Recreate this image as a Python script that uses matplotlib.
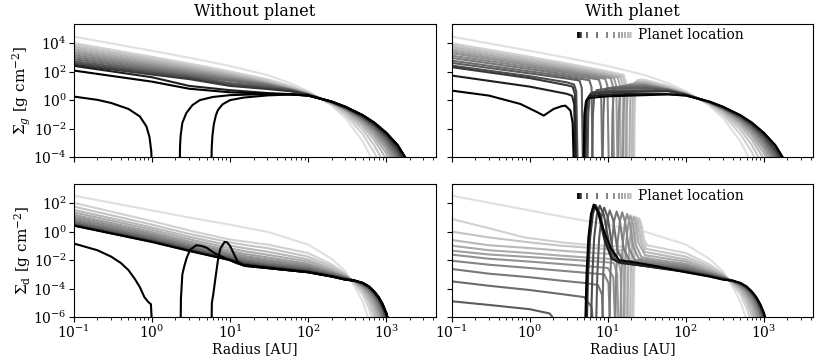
import numpy as np
import matplotlib
matplotlib.use("Agg")
import matplotlib.pyplot as plt
from matplotlib.ticker import NullLocator

plt.rcParams["font.family"] = "DejaVu Serif"
plt.rcParams["mathtext.fontset"] = "dejavuserif"
plt.rcParams["font.size"] = 10
plt.rcParams["xtick.major.pad"] = 1.5
plt.rcParams["ytick.major.pad"] = 1.5

# grey level of each snapshot, early (light) -> late (black)
GREYS = [0.88, 0.82, 0.77, 0.72, 0.67, 0.62, 0.57, 0.52, 0.47, 0.42, 0.36, 0.30, 0.22, 0.12, 0.0]

# ---- gas, no planet: log10 Sigma_g on R_GAS ----
R_GAS = [0.1, 1, 3, 10, 30, 60, 100, 200, 300, 500, 700, 1000, 1400, 2000]
GAS_NOPL = [
    [4.47, 3.47, 2.98, 2.40, 1.76, 1.18, 0.63, -0.38, -1.26, -2.90, -4.47],
    [4.01, 3.05, 2.58, 2.02, 1.47, 1.00, 0.56, -0.31, -1.04, -2.39, -3.66, -5.50],
    [3.87, 2.92, 2.46, 1.91, 1.36, 0.92, 0.51, -0.26, -0.91, -2.07, -3.16, -4.72],
    [3.73, 2.80, 2.35, 1.82, 1.28, 0.86, 0.48, -0.23, -0.80, -1.83, -2.78, -4.14, -6.00],
    [3.58, 2.68, 2.24, 1.74, 1.22, 0.82, 0.45, -0.20, -0.73, -1.66, -2.52, -3.74, -5.30],
    [3.44, 2.56, 2.14, 1.66, 1.18, 0.79, 0.44, -0.19, -0.68, -1.54, -2.33, -3.44, -4.87],
    [3.30, 2.45, 2.04, 1.58, 1.15, 0.76, 0.42, -0.17, -0.64, -1.45, -2.18, -3.22, -4.54],
    [3.16, 2.34, 1.95, 1.50, 1.12, 0.74, 0.41, -0.16, -0.61, -1.37, -2.06, -3.03, -4.27],
    [3.02, 2.23, 1.86, 1.43, 1.08, 0.73, 0.40, -0.15, -0.59, -1.32, -1.98, -2.90, -4.06],
    [2.88, 2.12, 1.76, 1.35, 1.03, 0.72, 0.40, -0.15, -0.56, -1.27, -1.89, -2.77, -3.88, -5.48],
    [2.74, 2.01, 1.67, 1.20, 0.94, 0.69, 0.39, -0.14, -0.54, -1.21, -1.81, -2.64, -3.69, -5.20],
    [2.62, 1.91, 1.58, 1.10, 0.86, 0.66, 0.38, -0.13, -0.52, -1.18, -1.75, -2.55, -3.56, -5.01],
    [2.50, 1.80, 1.48, 1.00, 0.78, 0.62, 0.38, -0.13, -0.51, -1.14, -1.70, -2.46, -3.43, -4.81],
    [2.41, 1.61, 1.00, 0.70, 0.50, 0.42, 0.33, -0.11, -0.48, -1.08, -1.60, -2.33, -3.20, -4.60],
    [2.08, 1.30, 0.80, 0.55, 0.45, 0.40, 0.32, -0.10, -0.47, -1.06, -1.58, -2.30, -3.17, -4.55],
]
# photoevaporated gas disc: inner remnant and two holed outer discs
HOLE_IN_R = [0.1, 0.2, 0.3, 0.5, 0.7, 0.85, 0.93, 0.98, 1.0]
HOLE_IN_V = [0.25, 0.02, -0.20, -0.62, -1.15, -1.85, -2.60, -3.60, -5.00]
HOLE1_R = [2.27, 2.29, 2.33, 2.45, 2.76, 3.3, 4.1, 6, 10, 20, 30]
HOLE1_V = [-4.5, -3.2, -2.5, -1.6, -0.9, -0.35, 0.0, 0.22, 0.35, 0.40, 0.40]
HOLE2_R = [5.77, 5.83, 5.95, 6.2, 6.6, 7.0, 8.0, 10, 15, 30]
HOLE2_V = [-4.5, -3.3, -2.5, -1.7, -1.05, -0.7, -0.3, 0.0, 0.18, 0.33]

# ---- gas with planet, snapshots 1..14 (out to 30 AU) ----
GAS_PL = [
    ([0.1, 1, 3, 10, 16.0, 17.0, 17.6, 21.8, 22.1, 22.6, 23.5, 26, 30],
     [4.00, 3.05, 2.58, 2.02, 1.78, 1.30, -4.5, -4.5, -1.0, 0.80, 1.38, 1.45, 1.42]),
    ([0.1, 1, 3, 10, 15.5, 16.5, 17.1, 21.3, 21.6, 22.1, 23.0, 26, 30],
     [3.87, 2.92, 2.46, 1.91, 1.68, 1.20, -4.5, -4.5, -1.0, 0.75, 1.30, 1.33, 1.32]),
    ([0.1, 1, 3, 10, 14.5, 15.5, 16.0, 20.3, 20.6, 21.1, 22.0, 25, 30],
     [3.73, 2.80, 2.35, 1.82, 1.62, 1.10, -4.5, -4.5, -1.0, 0.70, 1.22, 1.26, 1.25]),
    ([0.1, 1, 3, 10, 13.4, 14.3, 14.8, 18.9, 19.2, 19.7, 20.6, 24, 30],
     [3.58, 2.68, 2.24, 1.74, 1.58, 1.05, -4.5, -4.5, -1.0, 0.65, 1.15, 1.20, 1.19]),
    ([0.1, 1, 3, 10, 12.0, 12.85, 13.3, 17.2, 17.5, 18.0, 18.9, 22, 30],
     [3.44, 2.56, 2.14, 1.66, 1.56, 1.00, -4.5, -4.5, -1.0, 0.60, 1.10, 1.15, 1.13]),
    ([0.1, 1, 3, 10, 10.9, 11.6, 12.0, 15.6, 15.9, 16.35, 17.2, 20, 30],
     [3.30, 2.45, 2.04, 1.58, 1.54, 1.00, -4.5, -4.5, -1.0, 0.55, 1.05, 1.10, 1.08]),
    ([0.1, 1, 3, 9.3, 9.9, 10.3, 13.6, 13.85, 14.25, 15.0, 18, 30],
     [3.13, 2.32, 1.93, 1.50, 1.00, -4.5, -4.5, -1.0, 0.50, 0.98, 1.04, 1.05]),
    ([0.1, 1, 3, 7.7, 8.2, 8.5, 11.3, 11.5, 11.85, 12.5, 15, 30],
     [2.97, 2.18, 1.80, 1.45, 0.95, -4.5, -4.5, -1.0, 0.45, 0.90, 0.97, 1.00]),
    ([0.1, 1, 3, 5.8, 6.2, 6.4, 8.6, 8.78, 9.05, 9.6, 12, 30],
     [2.78, 2.02, 1.66, 1.40, 0.90, -4.5, -4.5, -1.0, 0.40, 0.82, 0.90, 0.95]),
    ([0.1, 1, 3, 4.35, 4.65, 4.8, 6.3, 6.45, 6.7, 7.2, 10, 30],
     [2.62, 1.88, 1.52, 1.38, 0.85, -4.5, -4.5, -1.0, 0.30, 0.70, 0.80, 0.85]),
    ([0.1, 1, 3, 3.7, 3.95, 4.1, 5.5, 5.62, 5.85, 6.3, 10, 30],
     [2.43, 1.68, 1.25, 1.10, 0.60, -4.5, -4.5, -1.0, 0.20, 0.55, 0.65, 0.70]),
    ([0.1, 1, 3, 3.55, 3.8, 3.95, 5.2, 5.32, 5.55, 6.0, 10, 30],
     [2.32, 1.55, 1.05, 0.95, 0.40, -4.5, -4.5, -1.0, 0.10, 0.45, 0.55, 0.60]),
    ([0.1, 1, 3, 3.5, 3.72, 3.85, 5.0, 5.12, 5.35, 5.8, 10, 30],
     [1.73, 0.95, 0.44, 0.30, -0.30, -4.5, -4.5, -1.0, 0.00, 0.30, 0.40, 0.45]),
    ([0.1, 0.3, 0.76, 1.25, 1.51, 2.03, 2.6, 2.87, 3.33, 3.55, 3.67, 4.9, 5.02, 5.25, 5.7, 10, 30],
     [0.67, 0.32, -0.27, -0.85, -1.09, -0.62, -0.42, -0.39, -0.74, -1.60, -4.5, -4.5, -1.0, -0.10, 0.15, 0.27, 0.35]),
]
PLANET_R = [19.9, 19.5, 18.2, 16.8, 15.2, 13.8, 11.9, 9.8, 7.3, 5.43, 4.6, 4.35, 4.25, 4.2]

# ---- dust, no planet: log10 Sigma_d on R_DUST ----
R_DUST = [0.1, 1, 3, 10, 15, 30, 100, 200, 300, 400, 500, 600, 700, 800, 900, 1000, 1100]
DUST_NOPL = [
    [2.54, 1.50, 1.00, 0.50, 0.30, 0.00, -0.90, -1.90, -2.80, -3.90, -4.90, -6.20],
    [2.03, 0.75, 0.09, -0.55, -0.68, -0.90, -1.50, -2.30, -2.95, -3.75, -4.40, -5.35, -6.60],
    [1.77, 0.50, -0.15, -0.75, -0.92, -1.15, -1.75, -2.45, -3.00, -3.65, -4.20, -4.95, -5.95, -7.00],
    [1.54, 0.30, -0.35, -0.98, -1.15, -1.40, -1.95, -2.60, -3.05, -3.60, -4.07, -4.70, -5.55, -6.60],
    [1.37, 0.14, -0.52, -1.17, -1.36, -1.62, -2.10, -2.70, -3.10, -3.55, -3.96, -4.50, -5.20, -6.10],
    [1.20, -0.02, -0.68, -1.34, -1.55, -1.80, -2.25, -2.80, -3.13, -3.52, -3.88, -4.35, -4.95, -5.75, -6.70],
    [1.06, -0.15, -0.81, -1.48, -1.70, -1.95, -2.35, -2.85, -3.16, -3.50, -3.82, -4.24, -4.77, -5.45, -6.30],
    [0.92, -0.27, -0.93, -1.60, -1.84, -2.08, -2.45, -2.90, -3.20, -3.48, -3.77, -4.15, -4.63, -5.25, -6.00, -6.80],
    [0.78, -0.38, -1.03, -1.71, -1.97, -2.20, -2.55, -2.95, -3.22, -3.47, -3.73, -4.08, -4.52, -5.08, -5.80, -6.60],
    [0.67, -0.48, -1.12, -1.79, -2.07, -2.30, -2.62, -3.00, -3.25, -3.46, -3.70, -4.02, -4.43, -4.95, -5.60, -6.40],
    [0.57, -0.57, -1.20, -1.86, -2.16, -2.38, -2.70, -3.05, -3.28, -3.45, -3.67, -3.97, -4.36, -4.85, -5.45, -6.20],
    [0.50, -0.64, -1.26, -1.92, -2.24, -2.44, -2.75, -3.08, -3.30, -3.45, -3.65, -3.93, -4.30, -4.76, -5.33, -6.00, -6.80],
    [0.46, -0.68, -1.30, -1.96, -2.29, -2.48, -2.80, -3.10, -3.32, -3.45, -3.63, -3.90, -4.27, -4.70, -5.25, -5.90, -6.70],
    [0.44, -0.70, -1.33, -1.98, -2.32, -2.52, -2.83, -3.13, -3.35, -3.45, -3.62, -3.88, -4.23, -4.65, -5.17, -5.80, -6.60],
    [0.43, -0.72, -1.35, -2.00, -2.35, -2.55, -2.85, -3.15, -3.37, -3.45, -3.60, -3.85, -4.20, -4.60, -5.10, -5.70, -6.50],
]
DHOLE_IN_R = [0.1, 0.2, 0.3, 0.4, 0.5, 0.6, 0.7, 0.8, 0.9, 0.97, 1.0]
DHOLE_IN_V = [-0.83, -1.30, -1.75, -2.20, -2.70, -3.30, -3.90, -4.60, -4.95, -5.10, -6.50]
DHOLE1_R = [2.33, 2.35, 2.45, 2.6, 2.8, 3.1, 3.7, 4.3, 5.0, 6.5, 9.0, 12, 15, 30]
DHOLE1_V = [-6.5, -4.7, -3.0, -2.4, -1.8, -1.25, -0.95, -1.0, -1.12, -1.55, -1.9, -2.2, -2.38, -2.55]
DHOLE2_R = [5.8, 5.85, 6.1, 6.6, 7.0, 7.5, 8.5, 9.2, 10, 11.3, 12.5, 14, 16, 30]
DHOLE2_V = [-6.5, -5.0, -4.4, -3.0, -2.0, -1.2, -0.72, -0.75, -1.0, -1.6, -2.1, -2.3, -2.42, -2.56]

# ---- dust with planet: inner discs (snapshots 1..10), trapped rings (1..14) ----
DUST_PL_IN = [
    ([0.1, 0.3, 0.84, 2.5, 5, 10, 16, 17.5, 18.2], [0.90, 0.25, -0.39, -0.74, -0.90, -1.00, -1.05, -2.0, -6.5]),
    ([0.1, 0.3, 1, 2.5, 5, 10, 15, 16.5, 17.3], [0.01, -0.40, -0.75, -0.98, -1.10, -1.22, -1.30, -2.2, -6.5]),
    ([0.1, 0.3, 1, 2.5, 5, 10, 14.5, 15.8, 16.4], [-0.58, -0.95, -1.15, -1.33, -1.45, -1.55, -1.62, -2.5, -6.5]),
    ([0.1, 0.3, 1, 2.5, 5, 10, 13.5, 14.6, 15.2], [-0.98, -1.30, -1.50, -1.68, -1.80, -1.90, -1.98, -2.8, -6.5]),
    ([0.1, 0.3, 1, 2.5, 5, 10, 12, 13.2, 13.7], [-1.33, -1.60, -1.78, -1.92, -2.03, -2.15, -2.20, -3.0, -6.5]),
    ([0.1, 0.3, 1, 2.5, 5, 10, 11.8, 12.4], [-1.61, -1.90, -2.10, -2.27, -2.40, -2.55, -3.2, -6.5]),
    ([0.1, 0.3, 1, 2.5, 5, 9, 10.2, 10.7], [-2.04, -2.32, -2.55, -2.74, -2.88, -3.00, -3.6, -6.5]),
    ([0.1, 0.3, 1, 2.5, 5, 7.5, 8.4, 8.8], [-2.62, -2.95, -3.20, -3.44, -3.60, -3.75, -4.4, -6.5]),
    ([0.1, 0.3, 1, 2.5, 5, 6.2, 6.5], [-3.49, -3.80, -4.10, -4.38, -4.60, -5.3, -6.5]),
    ([0.1, 0.3, 1, 1.8, 2.3], [-4.89, -5.15, -5.45, -5.75, -6.5]),
]
DUST_PL_OUT = [
    ([21.3, 21.8, 22.6, 23.8, 25.6, 27.3, 29, 32], [-6.5, -3.0, -1.0, 0.3, 0.9, 0.4, -0.5, -0.95]),
    ([20.5, 21.0, 21.8, 23.0, 24.8, 26.5, 28, 31], [-6.5, -3.0, -1.0, 0.35, 0.96, 0.4, -0.6, -1.2]),
    ([19.3, 19.7, 20.5, 21.6, 23.1, 24.7, 26.5, 30], [-6.5, -3.0, -0.9, 0.45, 1.02, 0.45, -0.7, -1.42]),
    ([17.8, 18.2, 19.0, 20.1, 21.5, 23.0, 24.8, 30], [-6.5, -3.0, -0.9, 0.5, 1.08, 0.5, -0.8, -1.65]),
    ([16.0, 16.4, 17.2, 18.3, 19.5, 21.0, 22.8, 27, 40], [-6.5, -3.0, -0.8, 0.55, 1.15, 0.55, -0.9, -1.78, -1.95]),
    ([14.5, 14.9, 15.6, 16.6, 17.7, 19.2, 21, 25, 40], [-6.5, -3.0, -0.8, 0.65, 1.25, 0.6, -1.0, -1.9, -2.08]),
    ([12.5, 12.8, 13.4, 14.3, 15.3, 16.7, 18.5, 22, 40], [-6.5, -3.0, -0.7, 0.75, 1.37, 0.7, -1.1, -1.98, -2.2]),
    ([10.5, 10.8, 11.3, 12.1, 13.0, 14.3, 16, 19, 40], [-6.5, -3.0, -0.7, 0.8, 1.42, 0.75, -1.2, -2.05, -2.3]),
    ([8.5, 8.75, 9.2, 9.9, 10.6, 11.7, 13.3, 16, 40], [-6.5, -3.0, -0.6, 0.9, 1.5, 0.85, -1.3, -2.15, -2.4]),
    ([7.1, 7.35, 7.75, 8.35, 9.0, 10.0, 11.5, 14, 40], [-6.5, -3.0, -0.5, 1.1, 1.7, 1.0, -1.2, -2.2, -2.45]),
    ([6.1, 6.35, 6.7, 7.25, 7.9, 8.9, 10.4, 12.5, 15, 40], [-6.5, -3.0, -0.4, 1.2, 1.84, 1.2, -0.8, -2.0, -2.2, -2.48]),
    ([5.4, 5.6, 5.95, 6.45, 7.0, 7.9, 9.4, 11.5, 14, 40], [-6.5, -3.0, -0.4, 1.25, 1.88, 1.3, -0.6, -1.9, -2.15, -2.5]),
    ([5.25, 5.45, 5.75, 6.2, 6.7, 7.6, 9.1, 11.2, 14, 40], [-6.5, -3.0, -0.4, 1.25, 1.9, 1.3, -0.6, -1.9, -2.15, -2.52]),
    ([5.15, 5.35, 5.65, 6.1, 6.6, 7.5, 9.0, 11.0, 14, 20, 40], [-6.5, -3.0, -0.4, 1.25, 1.9, 1.4, 0.0, -1.2, -2.0, -2.12, -2.4]),
]


def line(ax, r, v, g):
    ax.plot(r, np.power(10.0, np.array(v, dtype=float)), color=(g, g, g), lw=1.5)


fig, axes = plt.subplots(2, 2, figsize=(8.3, 3.57), dpi=100, sharex=True, sharey="row")
fig.subplots_adjust(left=0.089, right=0.98, top=0.933, bottom=0.112, wspace=0.044, hspace=0.203)
ax_gn, ax_gp = axes[0]
ax_dn, ax_dp = axes[1]

# gas without planet
for k, v in enumerate(GAS_NOPL):
    line(ax_gn, R_GAS[:len(v)], v, GREYS[k])
gtail = GAS_NOPL[-1][5:]
line(ax_gn, HOLE_IN_R, HOLE_IN_V, 0.0)
line(ax_gn, HOLE1_R + R_GAS[5:], HOLE1_V + gtail, 0.0)
line(ax_gn, HOLE2_R + R_GAS[5:], HOLE2_V + gtail, 0.0)

# gas with planet
line(ax_gp, R_GAS[:len(GAS_NOPL[0])], GAS_NOPL[0], GREYS[0])
for k, (r, v) in enumerate(GAS_PL, start=1):
    tail = GAS_NOPL[k][5:]
    line(ax_gp, r + R_GAS[5:5 + len(tail)], v + tail, GREYS[k])

# dust without planet
for k, v in enumerate(DUST_NOPL):
    line(ax_dn, R_DUST[:len(v)], v, GREYS[k])
dtail = DUST_NOPL[-1][6:]
line(ax_dn, DHOLE_IN_R, DHOLE_IN_V, 0.0)
line(ax_dn, DHOLE1_R + R_DUST[6:], DHOLE1_V + dtail, 0.0)
line(ax_dn, DHOLE2_R + R_DUST[6:], DHOLE2_V + dtail, 0.0)

# dust with planet
line(ax_dp, R_DUST[:len(DUST_NOPL[0])], DUST_NOPL[0], GREYS[0])
for k in range(1, 15):
    if k <= len(DUST_PL_IN):
        r, v = DUST_PL_IN[k - 1]
        line(ax_dp, r, v, GREYS[k])
    r, v = DUST_PL_OUT[k - 1]
    tail = DUST_NOPL[k][6:]
    line(ax_dp, r + R_DUST[6:6 + len(tail)], v + tail, GREYS[k])

# planet location markers
for ax, ymark in [(ax_gp, 4.0e4), (ax_dp, 3.5e2)]:
    for k, rp in enumerate(PLANET_R, start=1):
        g = GREYS[k]
        ax.plot([rp], [ymark], ls="none", marker="|", ms=4.5, mew=1.3, color=(g, g, g))
    ax.text(24.5, ymark, "Planet location", va="center", ha="left", fontsize=10)

for ax in axes.flat:
    ax.set_xscale("log")
    ax.set_yscale("log")
    ax.set_xlim(0.1, 4300)

ax_gn.set_ylim(1e-4, 2.3e5)
ax_dn.set_ylim(1e-6, 2.3e3)
ax_gn.set_yticks([1e-4, 1e-2, 1e0, 1e2, 1e4])
ax_dn.set_yticks([1e-6, 1e-4, 1e-2, 1e0, 1e2])
for ax in axes.flat:
    ax.yaxis.set_minor_locator(NullLocator())

ax_gn.set_title("Without planet", fontsize=11.5)
ax_gp.set_title("With planet", fontsize=11.5)
ax_gn.set_ylabel(r"$\Sigma_g$ [g cm$^{-2}$]", fontsize=11, labelpad=0)
ax_dn.set_ylabel(r"$\Sigma_\mathrm{d}$ [g cm$^{-2}$]", fontsize=11, labelpad=0)
ax_dn.set_xlabel("Radius [AU]", labelpad=0.5)
ax_dp.set_xlabel("Radius [AU]", labelpad=0.5)

fig.savefig("out.png", dpi=100)
